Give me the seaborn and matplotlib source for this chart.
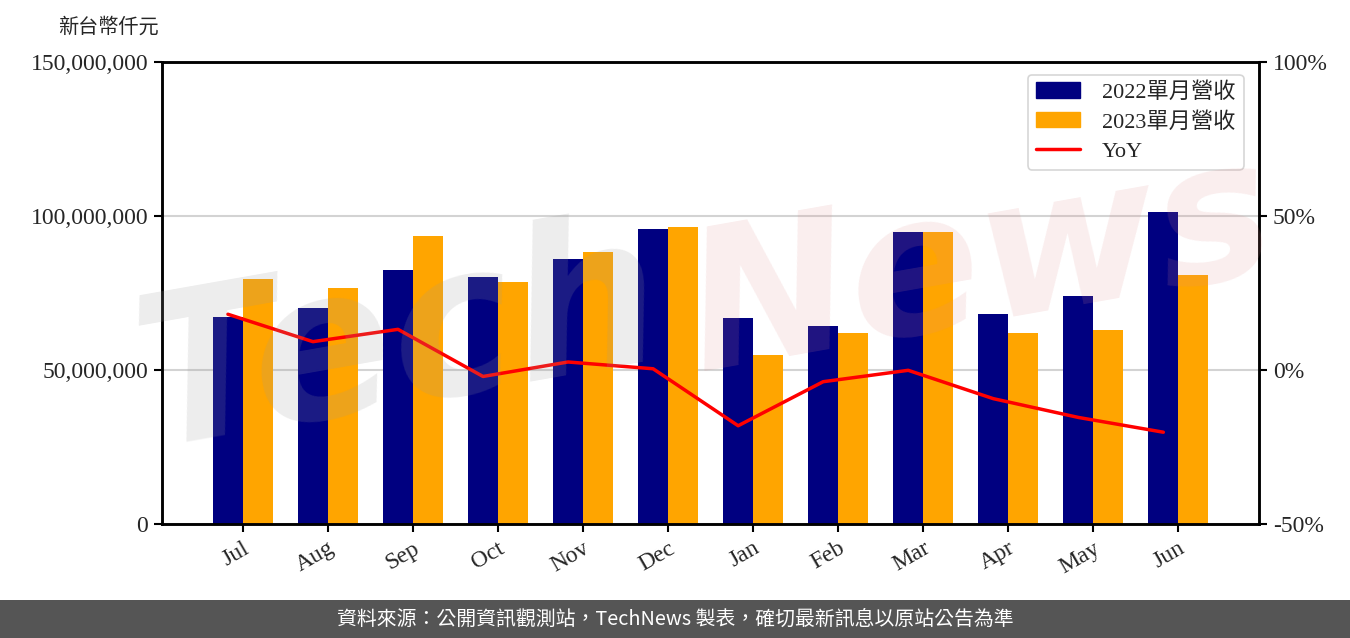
import numpy as np
import pandas as pd
import matplotlib
matplotlib.use("Agg")
import matplotlib.pyplot as plt
import seaborn as sns
from matplotlib.patches import Rectangle, Patch
from matplotlib.lines import Line2D

months = ["Jul", "Aug", "Sep", "Oct", "Nov", "Dec", "Jan", "Feb", "Mar", "Apr", "May", "Jun"]
rev_2022 = [67.2e6, 70.1e6, 82.5e6, 80.2e6, 86.0e6, 95.8e6, 66.9e6, 64.3e6, 94.8e6, 68.2e6, 74.0e6, 101.3e6]
rev_2023 = [79.5e6, 76.6e6, 93.5e6, 78.6e6, 88.3e6, 96.4e6, 54.9e6, 62.0e6, 94.8e6, 62.0e6, 63.0e6, 80.8e6]
yoy = [18.1, 9.2, 13.2, -2.1, 2.6, 0.4, -18.1, -3.8, -0.1, -9.3, -15.4, -20.2]
series_names = ["2022單月營收", "2023單月營收"]
left_ticks = [0, 50_000_000, 100_000_000, 150_000_000]
right_ticks = [-50, 0, 50, 100]

sns.set_theme(style="white")
plt.rcParams["font.family"] = ["Liberation Serif", "Noto Sans CJK TC", "DejaVu Sans"]
FS_TICK = 17
FS_LEG = 16

df = pd.DataFrame({
    "month": months * 2,
    "value": rev_2022 + rev_2023,
    "series": [series_names[0]] * 12 + [series_names[1]] * 12,
})

fig = plt.figure(figsize=(13.5, 6.38), dpi=100)
ax = fig.add_axes([0.12, 0.1787, 0.8126, 0.7241])

sns.barplot(data=df, x="month", y="value", hue="series", order=months,
            palette=["#000080", "#FFA500"], width=0.7, saturation=1,
            linewidth=0, edgecolor="none", ax=ax, legend=False)
ax.set_xlim(-0.95, 11.95)
ax.set_ylim(0, 150_000_000)
ax.set_yticks(left_ticks)
ax.set_yticklabels([f"{v:,}" for v in left_ticks], fontsize=FS_TICK)
ax.set_xticks(range(len(months)))
ax.set_xticklabels(months, rotation=30, ha="right", fontsize=FS_TICK,
                   rotation_mode="anchor")
ax.set_xlabel("")
ax.set_ylabel("")
ax.set_axisbelow(True)
ax.yaxis.grid(True, color="#d3d3d3", linewidth=1.5)
ax.xaxis.grid(False)
for s in ax.spines.values():
    s.set_color("black")
    s.set_linewidth(1.8)
ax.tick_params(axis="both", which="both", direction="out", length=6, width=1.5,
               color="black", left=True, bottom=True, pad=4)

ax2 = ax.twinx()
xpos = np.arange(len(months)) - 0.175
sns.lineplot(x=xpos, y=yoy, color="#FF0000", linewidth=2.5, ax=ax2, legend=False)
ax2.set_ylim(-50, 100)
ax2.set_yticks(right_ticks)
ax2.set_yticklabels([f"{v}%" for v in right_ticks], fontsize=FS_TICK)
ax2.set_xlim(-0.95, 11.95)
for s in ax2.spines.values():
    s.set_color("black")
    s.set_linewidth(1.8)
ax2.tick_params(axis="y", direction="out", length=6, width=1.5, color="black", right=True, pad=4)
ax2.grid(False)

# watermark
fig.text(0.09, 0.30, "Tech", fontsize=150, color="#9a9a9a", alpha=0.18,
         rotation=10, fontstyle="italic", fontweight="bold", family="DejaVu Sans")
fig.text(0.50, 0.42, "News", fontsize=140, color="#e08a8a", alpha=0.15,
         rotation=10, fontstyle="italic", fontweight="bold", family="DejaVu Sans")

handles = [Patch(color="#000080"), Patch(color="#FFA500"),
           Line2D([0], [0], color="#FF0000", linewidth=2.5)]
leg = ax2.legend(handles, series_names + ["YoY"], loc="upper right",
                 fontsize=FS_LEG, frameon=True, handlelength=2.0, handleheight=0.7,
                 borderpad=0.35, labelspacing=0.4, handletextpad=1.0,
                 bbox_to_anchor=(0.996, 0.997))
leg.get_frame().set_edgecolor("#cccccc")
leg.get_frame().set_linewidth(1.2)

fig.text(108 / 1350, 1 - 27 / 638, "新台幣仟元", ha="center", va="center",
         fontsize=14.5, family=["Noto Sans CJK TC", "DejaVu Sans"])

fig.patches.append(Rectangle((0, 0), 1, 38 / 638, transform=fig.transFigure,
                             facecolor="#555555", edgecolor="none", zorder=0))
fig.text(0.5, 19 / 638, "資料來源：公開資訊觀測站，TechNews 製表，確切最新訊息以原站公告為準",
         ha="center", va="center", color="white", fontsize=14.3,
         family=["Noto Sans CJK TC", "DejaVu Sans"])

fig.savefig("out.png", dpi=100, facecolor="white")
